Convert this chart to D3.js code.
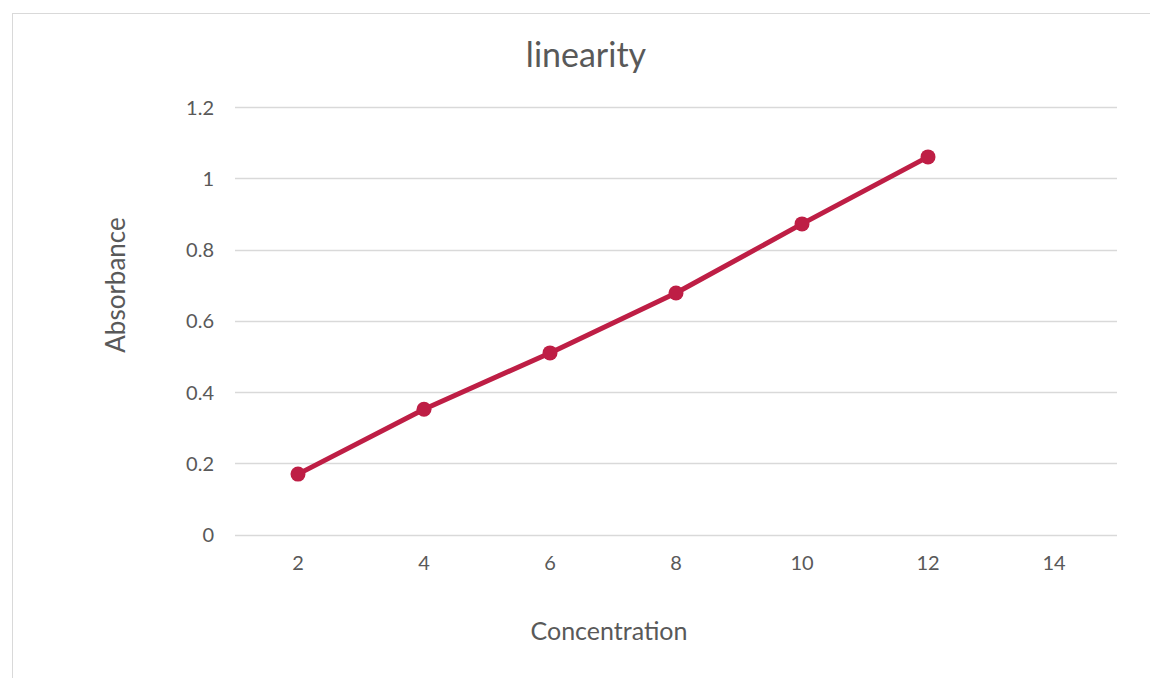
<!DOCTYPE html>
<html><head><meta charset="utf-8">
<script src="https://cdn.jsdelivr.net/npm/d3@7"></script>
<style>body{margin:0;background:#fff;} text{font-family:Lato,"Open Sans",sans-serif;fill:#595959;}</style>
</head><body>
<svg id="c" width="1150" height="678"></svg>
<script>
const categories = ["2","4","6","8","10","12","14"];
const absorbance = [0.17, 0.352, 0.51, 0.678, 0.872, 1.06, null];
const yTicks = [0, 0.2, 0.4, 0.6, 0.8, 1, 1.2];
const title = "linearity";
const xTitle = "Concentration";
const yTitle = "Absorbance";

const svg = d3.select("#c");
svg.append("rect").attr("x",12.5).attr("y",13.5).attr("width",1160).attr("height",700)
  .attr("fill","#fff").attr("stroke","#d9d9d9").attr("stroke-width",1);

const x = d3.scaleBand().domain(categories).range([235,1117]).padding(0);
const y = d3.scaleLinear().domain([0,1.2]).range([534.7,107]);

// gridlines
svg.append("g").selectAll("line").data(yTicks).join("line")
  .attr("x1",235).attr("x2",1117).attr("y1",d=>Math.round(y(d))+0.5).attr("y2",d=>Math.round(y(d))+0.5)
  .attr("stroke","#d9d9d9").attr("stroke-width",1.5);

// y axis labels
const yAxis = d3.axisLeft(y).tickValues(yTicks).tickSize(0).tickPadding(0).tickFormat(d3.format("~g"));
const gy = svg.append("g").attr("transform","translate(214,0)").call(yAxis);
gy.select(".domain").remove();
gy.selectAll("text").style("font-size","20px").attr("fill","#595959").attr("dy","0.35em");

// x axis labels
const xAxis = d3.axisBottom(x).tickSize(0).tickPadding(0);
const gx = svg.append("g").attr("transform","translate(0,556)").call(xAxis);
gx.select(".domain").remove();
gx.selectAll("text").style("font-size","20px").attr("fill","#595959").attr("dy","0.71em");

const color = "#BE1E45";
const pts = categories.map((c,i)=>({c, v:absorbance[i]})).filter(d=>d.v!=null);
const line = d3.line().x(d=>x(d.c)+x.bandwidth()/2).y(d=>y(d.v));
svg.append("path").datum(pts).attr("d",line).attr("fill","none")
  .attr("stroke",color).attr("stroke-width",5).attr("stroke-linejoin","round").attr("stroke-linecap","round");
svg.append("g").selectAll("circle").data(pts).join("circle")
  .attr("cx",d=>x(d.c)+x.bandwidth()/2).attr("cy",d=>y(d.v)).attr("r",7.5).attr("fill",color);

svg.append("text").attr("x",586).attr("y",67).attr("text-anchor","middle").style("font-size","34px").text(title);
svg.append("text").attr("x",609).attr("y",640).attr("text-anchor","middle").style("font-size","25px").text(xTitle);
svg.append("text").attr("transform","translate(125,285) rotate(-90)").attr("text-anchor","middle").style("font-size","26px").text(yTitle);
</script>
</body></html>
